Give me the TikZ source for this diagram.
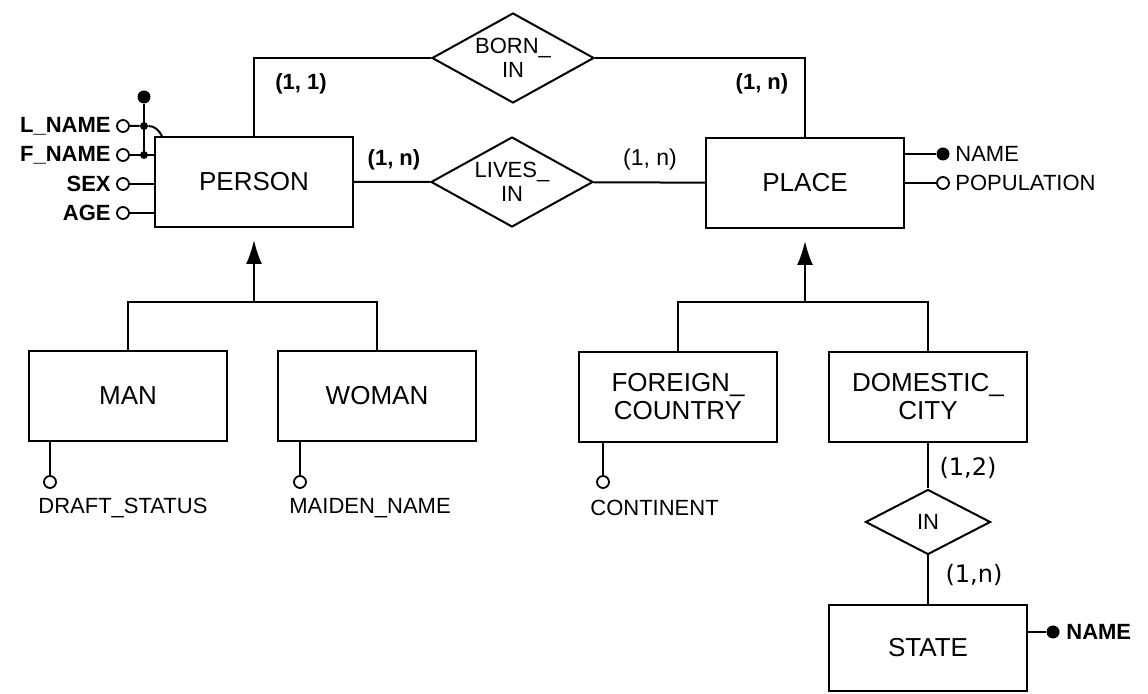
\documentclass[tikz,border=0pt]{standalone}
\usepackage{fontspec}
\setmainfont{Liberation Sans}
\newfontfamily\cardfont{DejaVu Sans}
\usetikzlibrary{shapes.geometric,arrows.meta}

\begin{document}
\begin{tikzpicture}[x=0.5pt,y=-0.5pt]
                    \tikzstyle{entity}=[rectangle,draw,line width=1pt,minimum width=99pt,minimum height=45pt,align=center,font=\fontsize{13}{14}\selectfont]
                    \tikzstyle{rel}=[diamond,draw,line width=1pt,shape aspect=2,inner sep=0pt,minimum width=81pt,minimum height=45pt,align=center,font=\fontsize{11}{12}\selectfont]
                    \tikzstyle{attr}=[circle,draw,line width=0.9pt,fill=white,inner sep=0pt,minimum size=6pt]
                    \tikzstyle{keyattr}=[circle,fill=black,inner sep=0pt,minimum size=6.5pt]
                    \tikzstyle{joint}=[circle,fill=black,inner sep=0pt,minimum size=4pt]
                    \tikzstyle{attrlbl}=[inner sep=0pt,font=\fontsize{11}{12}\selectfont]
                    \tikzstyle{attrbold}=[inner sep=0pt,font=\bfseries\fontsize{11}{12}\selectfont]
                    \tikzstyle{card}=[inner sep=0pt,font=\fontsize{11.5}{12}\selectfont]
                    \tikzstyle{cardbold}=[inner sep=0pt,font=\bfseries\fontsize{11}{12}\selectfont]
                    \tikzstyle{cardu}=[inner sep=0pt,font=\cardfont\fontsize{12}{13}\selectfont]
                    \tikzstyle{conn}=[line width=1pt]
                    \useasboundingbox (0,0) rectangle (1148,694);

                    \node (person) at (254,182) [entity] {PERSON};
                    \node (place) at (805,183) [entity] {PLACE};
                    \node (livesin) at (512,182) [rel] {LIVES\_\\IN};
                    \node (bornin) at (513,58) [rel] {BORN\_\\IN};

                    \node (man) at (128,396) [entity] {MAN};
                    \node (woman) at (377,396) [entity] {WOMAN};
                    \node (foreign) at (678,397) [entity] {FOREIGN\_\\COUNTRY};
                    \node (domestic) at (928,397) [entity] {DOMESTIC\_\\CITY};

                    \node (stin) at (928,522) [rel,minimum width=62.5pt,minimum height=32.5pt] {IN};
                    \node (state) at (928,648) [entity,minimum height=43pt] {STATE};

                    \draw [conn] (person) -- (livesin) -- (place);
                    \draw [conn] (person.north) |- (bornin.west);
                    \draw [conn] (bornin.east) -| (place.north);
                    \draw [conn] (domestic) -- (stin) -- (state);

                    \coordinate (pjoin) at (254,302);
                    \coordinate (cjoin) at (805,302);
                    \draw [conn] (man.north) |- (pjoin) -| (woman.north);
                    \draw [conn] (foreign.north) |- (cjoin) -| (domestic.north);
                    \draw [conn,-{Latex[length=12pt,width=8pt]},shorten >=6pt] (pjoin) -- (person.south);
                    \draw [conn,-{Latex[length=12pt,width=8pt]},shorten >=6pt] (cjoin) -- (place.south);

                    % person attributes
                    \node (lname) at (123,126) [attr] {};
                    \node (fname) at (123,155) [attr] {};
                    \node (sex) at (123,184) [attr] {};
                    \node (age) at (123,213) [attr] {};
                    \node (lnamel) at (111,126) [attrbold,anchor=east] {L\_NAME};
                    \node (fnamel) at (111,155) [attrbold,anchor=east] {F\_NAME};
                    \node (sexl) at (111,184) [attrbold,anchor=east] {SEX};
                    \node (agel) at (111,213) [attrbold,anchor=east] {AGE};

                    \node (ktop) at (144,97) [keyattr] {};
                    \node (k1) at (144,126) [joint] {};
                    \node (k2) at (144,155) [joint] {};
                    \draw [conn] (ktop) -- (k2);
                    \draw [conn] (lname) -- (k1) to [out=0,in=120] ([xshift=4pt]person.north west);
                    \draw [conn] (fname) -- (fname -| person.west);
                    \draw [conn] (sex) -- (sex -| person.west);
                    \draw [conn] (age) -- (age -| person.west);

                    % place attributes
                    \node (pname) at (943,154) [keyattr] {};
                    \node (pop) at (943,183) [attr] {};
                    \draw [conn] (pname) -- (pname -| place.east);
                    \draw [conn] (pop) -- (pop -| place.east);
                    \node (pnamel) at (955,154) [attrlbl,anchor=west] {NAME};
                    \node (popl) at (955,183) [attrlbl,anchor=west] {POPULATION};

                    % subtype attributes
                    \node (draft) at (50,482) [attr] {};
                    \node (maiden) at (300,482) [attr] {};
                    \node (cont) at (603,482) [attr] {};
                    \draw [conn] (draft) -- (draft |- man.south);
                    \draw [conn] (maiden) -- (maiden |- woman.south);
                    \draw [conn] (cont) -- (cont |- foreign.south);
                    \node (draftl) at (38,508) [attrlbl,anchor=west] {DRAFT\_STATUS};
                    \node (maidenl) at (289,508) [attrlbl,anchor=west] {MAIDEN\_NAME};
                    \node (contl) at (590,508) [attrlbl,anchor=west] {CONTINENT};

                    \node (sname) at (1053,632) [keyattr] {};
                    \draw [conn] (sname) -- (sname -| state.east);
                    \node (snamel) at (1066,632) [attrbold,anchor=west] {NAME};

                    % cardinalities
                    \node (c1) at (301,84) [cardbold] {(1, 1)};
                    \node (c2) at (762,84) [cardbold] {(1, n)};
                    \node (c3) at (394,160) [cardbold] {(1, n)};
                    \node (c4) at (650,160) [card] {(1, n)};
                    \node (c5) at (968,468) [cardu] {(1,2)};
                    \node (c6) at (974,575) [cardu] {(1,n)};
\end{tikzpicture}
\end{document}
